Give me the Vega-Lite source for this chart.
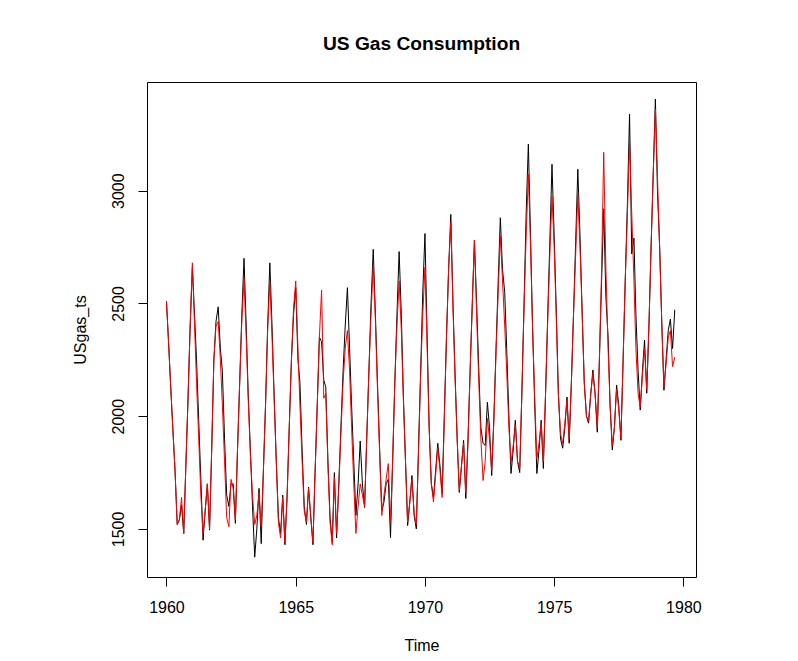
{
"$schema": "https://vega.github.io/schema/vega-lite/v6.json",
"width": 549, "height": 495,
"autosize": "none",
"padding": {"left": 147, "top": 82, "right": 102, "bottom": 84},
"background": "white",
"title": {"text": "US Gas Consumption", "font": "Liberation Sans", "fontSize": 19.2, "fontWeight": "bold", "color": "black", "anchor": "middle", "frame": "group", "baseline": "alphabetic", "offset": 12.5},
"config": {
  "view": {"stroke": "black", "strokeWidth": 1},
  "axis": {"domain": false, "grid": false, "tickColor": "black", "tickSize": 9, "tickWidth": 1, "labelColor": "black", "labelFont": "Liberation Sans", "labelFontSize": 16, "titleFont": "Liberation Sans", "titleFontSize": 16, "titleFontWeight": "normal", "titleColor": "black", "labelFlush": false, "labelOverlap": false}
},
"data": {"values": [
{"d":"1960-01","o":2510,"f":2510},{"d":"1960-02","o":2320,"f":2320},{"d":"1960-03","o":2130,"f":2130},{"d":"1960-04","o":1940,"f":1940},{"d":"1960-05","o":1760,"f":1760},{"d":"1960-06","o":1520,"f":1520},{"d":"1960-07","o":1540,"f":1540},{"d":"1960-08","o":1605,"f":1640},{"d":"1960-09","o":1480,"f":1480},{"d":"1960-10","o":1780,"f":1780},{"d":"1960-11","o":2080,"f":2080},{"d":"1960-12","o":2400,"f":2400},
{"d":"1961-01","o":2660,"f":2680},{"d":"1961-02","o":2450,"f":2400},{"d":"1961-03","o":2250,"f":2150},{"d":"1961-04","o":1980,"f":1900},{"d":"1961-05","o":1720,"f":1650},{"d":"1961-06","o":1450,"f":1480},{"d":"1961-07","o":1580,"f":1580},{"d":"1961-08","o":1700,"f":1700},{"d":"1961-09","o":1495,"f":1500},{"d":"1961-10","o":1850,"f":1850},{"d":"1961-11","o":2250,"f":2250},{"d":"1961-12","o":2420,"f":2400},
{"d":"1962-01","o":2485,"f":2420},{"d":"1962-02","o":2300,"f":2250},{"d":"1962-03","o":2200,"f":2050},{"d":"1962-04","o":1900,"f":1800},{"d":"1962-05","o":1650,"f":1550},{"d":"1962-06","o":1600,"f":1510},{"d":"1962-07","o":1700,"f":1720},{"d":"1962-08","o":1700,"f":1680},{"d":"1962-09","o":1525,"f":1540},{"d":"1962-10","o":1850,"f":1850},{"d":"1962-11","o":2150,"f":2150},{"d":"1962-12","o":2450,"f":2420},
{"d":"1963-01","o":2700,"f":2610},{"d":"1963-02","o":2400,"f":2350},{"d":"1963-03","o":2100,"f":2080},{"d":"1963-04","o":1850,"f":1830},{"d":"1963-05","o":1600,"f":1650},{"d":"1963-06","o":1375,"f":1520},{"d":"1963-07","o":1500,"f":1560},{"d":"1963-08","o":1680,"f":1660},{"d":"1963-09","o":1435,"f":1510},{"d":"1963-10","o":1750,"f":1750},{"d":"1963-11","o":2050,"f":2050},{"d":"1963-12","o":2400,"f":2380},
{"d":"1964-01","o":2680,"f":2600},{"d":"1964-02","o":2400,"f":2350},{"d":"1964-03","o":2100,"f":2080},{"d":"1964-04","o":1800,"f":1800},{"d":"1964-05","o":1550,"f":1530},{"d":"1964-06","o":1480,"f":1460},{"d":"1964-07","o":1650,"f":1640},{"d":"1964-08","o":1430,"f":1440},{"d":"1964-09","o":1650,"f":1640},{"d":"1964-10","o":1950,"f":1950},{"d":"1964-11","o":2250,"f":2250},{"d":"1964-12","o":2450,"f":2480},
{"d":"1965-01","o":2570,"f":2600},{"d":"1965-02","o":2250,"f":2300},{"d":"1965-03","o":2150,"f":2050},{"d":"1965-04","o":1850,"f":1800},{"d":"1965-05","o":1600,"f":1580},{"d":"1965-06","o":1520,"f":1530},{"d":"1965-07","o":1685,"f":1680},{"d":"1965-08","o":1550,"f":1560},{"d":"1965-09","o":1430,"f":1440},{"d":"1965-10","o":1750,"f":1750},{"d":"1965-11","o":2050,"f":2050},{"d":"1965-12","o":2350,"f":2350},
{"d":"1966-01","o":2330,"f":2560},{"d":"1966-02","o":2160,"f":2080},{"d":"1966-03","o":2130,"f":2100},{"d":"1966-04","o":1800,"f":1780},{"d":"1966-05","o":1550,"f":1530},{"d":"1966-06","o":1440,"f":1430},{"d":"1966-07","o":1750,"f":1730},{"d":"1966-08","o":1460,"f":1480},{"d":"1966-09","o":1700,"f":1680},{"d":"1966-10","o":1950,"f":1920},{"d":"1966-11","o":2200,"f":2150},{"d":"1966-12","o":2400,"f":2300},
{"d":"1967-01","o":2570,"f":2380},{"d":"1967-02","o":2300,"f":2200},{"d":"1967-03","o":2050,"f":1950},{"d":"1967-04","o":1800,"f":1700},{"d":"1967-05","o":1560,"f":1480},{"d":"1967-06","o":1700,"f":1600},{"d":"1967-07","o":1890,"f":1700},{"d":"1967-08","o":1700,"f":1650},{"d":"1967-09","o":1595,"f":1600},{"d":"1967-10","o":1900,"f":1900},{"d":"1967-11","o":2200,"f":2200},{"d":"1967-12","o":2500,"f":2450},
{"d":"1968-01","o":2740,"f":2670},{"d":"1968-02","o":2450,"f":2420},{"d":"1968-03","o":2150,"f":2120},{"d":"1968-04","o":1850,"f":1830},{"d":"1968-05","o":1580,"f":1560},{"d":"1968-06","o":1620,"f":1650},{"d":"1968-07","o":1700,"f":1720},{"d":"1968-08","o":1720,"f":1790},{"d":"1968-09","o":1462,"f":1530},{"d":"1968-10","o":1800,"f":1800},{"d":"1968-11","o":2150,"f":2150},{"d":"1968-12","o":2450,"f":2400},
{"d":"1969-01","o":2730,"f":2600},{"d":"1969-02","o":2450,"f":2380},{"d":"1969-03","o":2100,"f":2080},{"d":"1969-04","o":1800,"f":1800},{"d":"1969-05","o":1515,"f":1530},{"d":"1969-06","o":1620,"f":1620},{"d":"1969-07","o":1737,"f":1720},{"d":"1969-08","o":1560,"f":1570},{"d":"1969-09","o":1500,"f":1520},{"d":"1969-10","o":1850,"f":1830},{"d":"1969-11","o":2200,"f":2180},{"d":"1969-12","o":2550,"f":2450},
{"d":"1970-01","o":2810,"f":2660},{"d":"1970-02","o":2350,"f":2300},{"d":"1970-03","o":1950,"f":1950},{"d":"1970-04","o":1700,"f":1700},{"d":"1970-05","o":1640,"f":1620},{"d":"1970-06","o":1760,"f":1740},{"d":"1970-07","o":1880,"f":1860},{"d":"1970-08","o":1780,"f":1760},{"d":"1970-09","o":1657,"f":1640},{"d":"1970-10","o":2000,"f":1980},{"d":"1970-11","o":2350,"f":2350},{"d":"1970-12","o":2650,"f":2650},
{"d":"1971-01","o":2895,"f":2860},{"d":"1971-02","o":2500,"f":2480},{"d":"1971-03","o":2200,"f":2180},{"d":"1971-04","o":1900,"f":1900},{"d":"1971-05","o":1662,"f":1670},{"d":"1971-06","o":1780,"f":1780},{"d":"1971-07","o":1893,"f":1880},{"d":"1971-08","o":1635,"f":1660},{"d":"1971-09","o":1900,"f":1880},{"d":"1971-10","o":2200,"f":2200},{"d":"1971-11","o":2500,"f":2500},{"d":"1971-12","o":2780,"f":2780},
{"d":"1972-01","o":2500,"f":2450},{"d":"1972-02","o":2200,"f":2150},{"d":"1972-03","o":1950,"f":1900},{"d":"1972-04","o":1880,"f":1715},{"d":"1972-05","o":1870,"f":1800},{"d":"1972-06","o":2062,"f":1990},{"d":"1972-07","o":1950,"f":1900},{"d":"1972-08","o":1737,"f":1760},{"d":"1972-09","o":2000,"f":1980},{"d":"1972-10","o":2300,"f":2280},{"d":"1972-11","o":2600,"f":2550},{"d":"1972-12","o":2880,"f":2800},
{"d":"1973-01","o":2650,"f":2600},{"d":"1973-02","o":2550,"f":2400},{"d":"1973-03","o":2300,"f":2200},{"d":"1973-04","o":2000,"f":1950},{"d":"1973-05","o":1746,"f":1795},{"d":"1973-06","o":1850,"f":1870},{"d":"1973-07","o":1982,"f":1960},{"d":"1973-08","o":1800,"f":1800},{"d":"1973-09","o":1750,"f":1770},{"d":"1973-10","o":2100,"f":2100},{"d":"1973-11","o":2500,"f":2480},{"d":"1973-12","o":2900,"f":2800},
{"d":"1974-01","o":3206,"f":3073},{"d":"1974-02","o":2800,"f":2750},{"d":"1974-03","o":2400,"f":2400},{"d":"1974-04","o":2050,"f":2080},{"d":"1974-05","o":1746,"f":1813},{"d":"1974-06","o":1850,"f":1880},{"d":"1974-07","o":1982,"f":1970},{"d":"1974-08","o":1768,"f":1800},{"d":"1974-09","o":2100,"f":2100},{"d":"1974-10","o":2440,"f":2420},{"d":"1974-11","o":2780,"f":2720},{"d":"1974-12","o":3117,"f":2975},
{"d":"1975-01","o":2800,"f":2750},{"d":"1975-02","o":2450,"f":2420},{"d":"1975-03","o":2100,"f":2100},{"d":"1975-04","o":1900,"f":1920},{"d":"1975-05","o":1858,"f":1880},{"d":"1975-06","o":1950,"f":1970},{"d":"1975-07","o":2085,"f":2070},{"d":"1975-08","o":1880,"f":1900},{"d":"1975-09","o":2150,"f":2150},{"d":"1975-10","o":2450,"f":2450},{"d":"1975-11","o":2780,"f":2720},{"d":"1975-12","o":3095,"f":2983},
{"d":"1976-01","o":2800,"f":2750},{"d":"1976-02","o":2450,"f":2450},{"d":"1976-03","o":2150,"f":2150},{"d":"1976-04","o":2000,"f":2000},{"d":"1976-05","o":1969,"f":1980},{"d":"1976-06","o":2100,"f":2100},{"d":"1976-07","o":2205,"f":2190},{"d":"1976-08","o":2100,"f":2100},{"d":"1976-09","o":1929,"f":1950},{"d":"1976-10","o":2250,"f":2250},{"d":"1976-11","o":2600,"f":2650},{"d":"1976-12","o":2920,"f":3170},
{"d":"1977-01","o":2525,"f":2650},{"d":"1977-02","o":2350,"f":2300},{"d":"1977-03","o":2050,"f":2050},{"d":"1977-04","o":1850,"f":1870},{"d":"1977-05","o":1950,"f":1950},{"d":"1977-06","o":2138,"f":2120},{"d":"1977-07","o":2050,"f":2030},{"d":"1977-08","o":1893,"f":1900},{"d":"1977-09","o":2250,"f":2250},{"d":"1977-10","o":2600,"f":2600},{"d":"1977-11","o":2950,"f":2900},{"d":"1977-12","o":3340,"f":3215},
{"d":"1978-01","o":2720,"f":2900},{"d":"1978-02","o":2790,"f":2600},{"d":"1978-03","o":2450,"f":2300},{"d":"1978-04","o":2200,"f":2100},{"d":"1978-05","o":2027,"f":2040},{"d":"1978-06","o":2200,"f":2180},{"d":"1978-07","o":2338,"f":2300},{"d":"1978-08","o":2102,"f":2120},{"d":"1978-09","o":2400,"f":2400},{"d":"1978-10","o":2750,"f":2750},{"d":"1978-11","o":3080,"f":3080},{"d":"1978-12","o":3406,"f":3362},
{"d":"1979-01","o":2980,"f":3050},{"d":"1979-02","o":2740,"f":2720},{"d":"1979-03","o":2420,"f":2420},{"d":"1979-04","o":2115,"f":2130},{"d":"1979-05","o":2250,"f":2230},{"d":"1979-06","o":2380,"f":2350},{"d":"1979-07","o":2430,"f":2380},{"d":"1979-08","o":2300,"f":2220},{"d":"1979-09","o":2472,"f":2262}
]},
"encoding": {
  "x": {"field": "d", "type": "temporal",
    "scale": {"type": "utc", "domain": [{"year": 1959, "month": 4, "date": 1, "utc": true}, {"year": 1980, "month": 6, "date": 27, "utc": true}]},
    "axis": {"values": [{"year": 1960, "utc": true}, {"year": 1965, "utc": true}, {"year": 1970, "utc": true}, {"year": 1975, "utc": true}, {"year": 1980, "utc": true}], "format": "%Y", "labelPadding": 26.5, "labelBaseline": "alphabetic", "title": "Time", "titleY": 73.7, "titleBaseline": "alphabetic"}}
},
"layer": [
  {"mark": {"type": "line", "color": "black", "strokeWidth": 1},
   "encoding": {"y": {"field": "o", "type": "quantitative",
     "scale": {"domain": [1287, 3482], "nice": false, "zero": false},
     "axis": {"values": [1500, 2000, 2500, 3000], "format": "d", "labelAngle": -90, "labelAlign": "center", "labelBaseline": "alphabetic", "labelPadding": 14.5, "title": "USgas_ts", "titleX": -62, "titleY": 247.5, "titleAngle": -90, "titleAlign": "center", "titleBaseline": "alphabetic"}}}},
  {"mark": {"type": "line", "color": "#FF0000", "strokeWidth": 1},
   "encoding": {"y": {"field": "f", "type": "quantitative",
     "scale": {"domain": [1287, 3482], "nice": false, "zero": false},
     "axis": {"values": [1500, 2000, 2500, 3000], "format": "d", "labelAngle": -90, "labelAlign": "center", "labelBaseline": "alphabetic", "labelPadding": 14.5, "title": "USgas_ts", "titleX": -62, "titleY": 247.5, "titleAngle": -90, "titleAlign": "center", "titleBaseline": "alphabetic"}}}}
]
}
